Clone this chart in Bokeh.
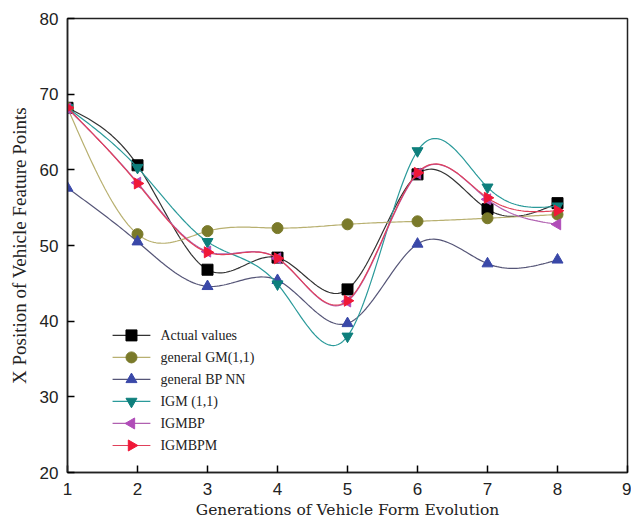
import numpy as np
from bokeh.plotting import figure
from bokeh.models import FixedTicker, Range1d
from bokeh.core.properties import value
from bokeh.embed import file_html
from bokeh.resources import INLINE

generations = [1, 2, 3, 4, 5, 6, 7, 8]
actual = [68.2, 60.6, 46.8, 48.4, 44.2, 59.4, 54.8, 55.6]
gm11 = [68.2, 51.5, 51.9, 52.3, 52.8, 53.2, 53.6, 54.1]
bpnn = [57.6, 50.5, 44.6, 45.4, 39.7, 50.2, 47.6, 48.1]
igm11 = [68.2, 60.3, 50.5, 44.9, 38.0, 62.5, 57.7, 55.2]
igmbp = [68.1, 58.3, 49.2, 48.3, 42.6, 59.5, 56.1, 52.8]
igmbpm = [68.2, 58.2, 49.1, 48.3, 42.7, 59.6, 56.3, 54.6]

series_names = ["Actual values", "general GM(1,1)", "general BP NN",
                "IGM (1,1)", "IGMBP", "IGMBPM"]
x_ticks = [1, 2, 3, 4, 5, 6, 7, 8, 9]
y_ticks = [20, 30, 40, 50, 60, 70, 80]

styles = [
    # line colour, marker, marker colour, angle
    ("#333333", "square", "#000000", 0.0),
    ("#b8b070", "circle", "#7a7a2a", 0.0),
    ("#555577", "triangle", "#3a48a8", 0.0),
    ("#2a9a9a", "inverted_triangle", "#0e7f7c", 0.0),
    ("#b060b0", "triangle", "#b04cb8", np.pi / 2),
    ("#e0405a", "triangle", "#f01838", -np.pi / 2),
]
all_values = [actual, gm11, bpnn, igm11, igmbp, igmbpm]

X0, X1, Y0, Y1 = 1, 9, 20, 80


def natural_spline(xs, ys, n=30):
    xs = np.asarray(xs, float)
    ys = np.asarray(ys, float)
    k = len(xs)
    h = np.diff(xs)
    A = np.zeros((k, k))
    b = np.zeros(k)
    A[0, 0] = 1
    A[-1, -1] = 1
    for i in range(1, k - 1):
        A[i, i - 1] = h[i - 1]
        A[i, i] = 2 * (h[i - 1] + h[i])
        A[i, i + 1] = h[i]
        b[i] = 6 * ((ys[i + 1] - ys[i]) / h[i] - (ys[i] - ys[i - 1]) / h[i - 1])
    M = np.linalg.solve(A, b)
    outx, outy = [], []
    for i in range(k - 1):
        t = np.linspace(xs[i], xs[i + 1], n, endpoint=(i == k - 2))
        a = xs[i + 1] - t
        c = t - xs[i]
        yy = (M[i] * a ** 3 + M[i + 1] * c ** 3) / (6 * h[i]) \
            + (ys[i] / h[i] - M[i] * h[i] / 6) * a \
            + (ys[i + 1] / h[i] - M[i + 1] * h[i] / 6) * c
        outx.extend(t)
        outy.extend(yy)
    return outx, outy


p = figure(width=631, height=523, output_backend="svg", toolbar_location=None,
           x_range=Range1d(X0, X1), y_range=Range1d(Y0, Y1),
           min_border_left=67, min_border_right=4, min_border_top=18, min_border_bottom=51)

p.outline_line_color = "#222222"
p.outline_line_width = 1.5
p.xgrid.visible = False
p.ygrid.visible = False

for ax in (p.xaxis[0], p.yaxis[0]):
    ax.axis_line_color = "#222222"
    ax.axis_line_width = 1.5
    ax.major_tick_in = 7
    ax.major_tick_out = 0
    ax.major_tick_line_width = 1.5
    ax.minor_tick_line_color = None
    ax.major_label_text_font = "Liberation Sans"
    ax.major_label_text_font_size = "17px"
    ax.major_label_text_color = "#222222"
    ax.axis_label_text_font_style = "normal"
    ax.axis_label_text_color = "#222222"

p.xaxis.ticker = FixedTicker(ticks=x_ticks)
p.yaxis.ticker = FixedTicker(ticks=y_ticks)
p.xaxis.axis_label = "Generations of Vehicle Form Evolution"
p.yaxis.axis_label = "X Position of Vehicle Feature Points"
p.xaxis.axis_label_text_font = "DejaVu Serif"
p.xaxis.axis_label_text_font_size = "15.5px"
p.yaxis.axis_label_text_font = "Liberation Serif"
p.yaxis.axis_label_text_font_size = "19px"
p.xaxis.major_label_standoff = 10
p.yaxis.major_label_standoff = 9
p.xaxis.axis_label_standoff = 3
p.yaxis.axis_label_standoff = 7

for vals, (lcol, marker, mcol, ang) in zip(all_values, styles):
    sx, sy = natural_spline(generations, vals)
    p.line(sx, sy, line_color=lcol, line_width=1.2)
    p.scatter(generations, vals, marker=marker, size=11, angle=ang,
              fill_color=mcol, line_color=mcol)

# hand-built legend (so that the rotated triangles show as in the reference)
xspan, yspan = X1 - X0, Y1 - Y0
lg_x0 = X0 + 0.0805 * xspan
lg_x1 = X0 + 0.148 * xspan
lg_xt = X0 + 0.166 * xspan
lg_ytop = Y0 + 0.302 * yspan
lg_dy = 0.0485 * yspan
for i, (name, (lcol, marker, mcol, ang)) in enumerate(zip(series_names, styles)):
    yy = lg_ytop - i * lg_dy
    p.line([lg_x0, lg_x1], [yy, yy], line_color=lcol, line_width=1.2)
    p.scatter([(lg_x0 + lg_x1) / 2], [yy], marker=marker, size=11, angle=ang,
              fill_color=mcol, line_color=mcol)
    p.text([lg_xt], [yy], text=[name], text_font=value("Liberation Serif"),
           text_font_size="14px", text_baseline="middle", text_align="left",
           text_color="#222222")

open("out.html", "w").write(file_html(p, INLINE))
